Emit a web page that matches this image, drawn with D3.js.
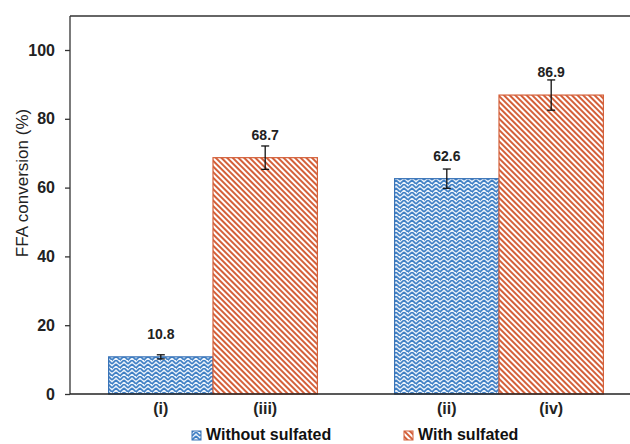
<!DOCTYPE html>
<html>
<head>
<meta charset="utf-8">
<script src="https://cdn.jsdelivr.net/npm/d3@7"></script>
<style>
  body{margin:0;background:#fff;}
  text{font-family:Arial,"Liberation Sans",sans-serif;}
</style>
</head>
<body>
<div id="chart"></div>
<script>
let w=630;
let h=444;

// data
let groups=["g1","g2"];
let series=["Without sulfated","With sulfated"];
let catLabels=[["(i)","(iii)"],["(ii)","(iv)"]];
let values=[[10.8,68.7],[62.6,86.9]];
let errors=[[0.6,3.4],[2.8,4.4]];
let yTicks=[0,20,40,60,80,100];

let blue="#3f7fc4";
let orange="#d4603a";

let svg=d3.select("#chart").append("svg")
  .attr("width",w)
  .attr("height",h);

let defs=svg.append("defs");

// blue weave pattern
let pb=defs.append("pattern")
  .attr("id","weave")
  .attr("patternUnits","userSpaceOnUse")
  .attr("width",8).attr("height",8);
pb.append("rect").attr("width",8).attr("height",8).attr("fill","#eaf2fb");
pb.append("path")
  .attr("d","M0,4 L4,0 M0,8 L4,4 M4,0 L8,4 M4,4 L8,8 M-1,1 L1,-1 M7,9 L9,7")
  .attr("stroke",blue).attr("stroke-width",1.7).attr("fill","none");

// orange diagonal stripes
let po=defs.append("pattern")
  .attr("id","stripes")
  .attr("patternUnits","userSpaceOnUse")
  .attr("width",4).attr("height",4)
  .attr("patternTransform","rotate(-45)");
po.append("rect").attr("width",4).attr("height",4).attr("fill","white");
po.append("rect").attr("width",2).attr("height",4).attr("fill",orange);

let fills=["url(#weave)","url(#stripes)"];
let borders=["#3a74b8",orange];

let plotLeft=70, plotTop=16, plotBottom=394;

// 0 -> 394, 100 -> 50
let yScale=d3.scaleLinear().domain([0,100]).range([plotBottom,50]);

let xScale=d3.scaleBand().domain(groups).range([plotLeft,642])
  .paddingInner(0.27).paddingOuter(0.135);
let xInner=d3.scaleBand().domain(d3.range(series.length)).range([0,xScale.bandwidth()]);

// frame
svg.append("line")
  .attr("x1",plotLeft).attr("x2",w).attr("y1",plotTop).attr("y2",plotTop)
  .attr("stroke","#333").attr("stroke-width",1.3);

// bars
groups.forEach(function(g,gi){
  series.forEach(function(s,si){
    let x0=xScale(g)+xInner(si);
    let v=values[gi][si];
    svg.append("rect")
      .attr("x",x0)
      .attr("y",yScale(v))
      .attr("width",xInner.bandwidth())
      .attr("height",yScale(0)-yScale(v))
      .attr("fill",fills[si])
      .attr("stroke",borders[si])
      .attr("stroke-width",1.2);

    let cx=x0+xInner.bandwidth()/2;
    let e=errors[gi][si];
    let eb=svg.append("g").attr("stroke","#111").attr("stroke-width",1.3);
    eb.append("line").attr("x1",cx).attr("x2",cx)
      .attr("y1",yScale(v+e)).attr("y2",yScale(v-e));
    eb.append("line").attr("x1",cx-4).attr("x2",cx+4)
      .attr("y1",yScale(v+e)).attr("y2",yScale(v+e));
    eb.append("line").attr("x1",cx-4).attr("x2",cx+4)
      .attr("y1",yScale(v-e)).attr("y2",yScale(v-e));

    svg.append("text")
      .text(v.toFixed(1))
      .attr("x",cx)
      .attr("y",yScale(v)-18)
      .attr("text-anchor","middle")
      .style("font-size","14px")
      .style("font-weight","bold")
      .attr("fill","#222");

    svg.append("text")
      .text(catLabels[gi][si])
      .attr("x",cx)
      .attr("y",414)
      .attr("text-anchor","middle")
      .style("font-size","16px")
      .style("font-weight","bold")
      .attr("fill","#222");
  });
});

// y axis
let yAxis=d3.axisLeft(yScale).tickValues(yTicks).tickSize(5).tickPadding(10);
let yAxisGroup=svg.append("g")
  .attr("transform","translate("+plotLeft+",0)")
  .call(yAxis);
yAxisGroup.select(".domain").attr("d","M0,"+plotTop+"V"+plotBottom).attr("stroke","#333").attr("stroke-width",1.3);
yAxisGroup.selectAll(".tick line").attr("stroke","#333").attr("stroke-width",1.3);
yAxisGroup.selectAll(".tick text")
  .style("font-size","16px")
  .style("font-weight","bold")
  .style("font-family","Arial, 'Liberation Sans', sans-serif")
  .attr("fill","#222");

// x baseline
svg.append("line")
  .attr("x1",plotLeft).attr("x2",w).attr("y1",plotBottom).attr("y2",plotBottom)
  .attr("stroke","#222").attr("stroke-width",1.5);

// y title
svg.append("text")
  .text("FFA conversion (%)")
  .attr("transform","translate(28,183) rotate(-90)")
  .attr("text-anchor","middle")
  .style("font-size","17px")
  .attr("fill","#222");

// legend
let legendX=[192,404];
series.forEach(function(s,si){
  svg.append("rect")
    .attr("x",legendX[si]).attr("y",431)
    .attr("width",9).attr("height",9)
    .attr("fill",fills[si])
    .attr("stroke",borders[si]).attr("stroke-width",1);
  svg.append("text")
    .text(s)
    .attr("x",legendX[si]+14)
    .attr("y",440)
    .style("font-size","16px")
    .style("font-weight","bold")
    .attr("fill","#111");
});
</script>
</body>
</html>
